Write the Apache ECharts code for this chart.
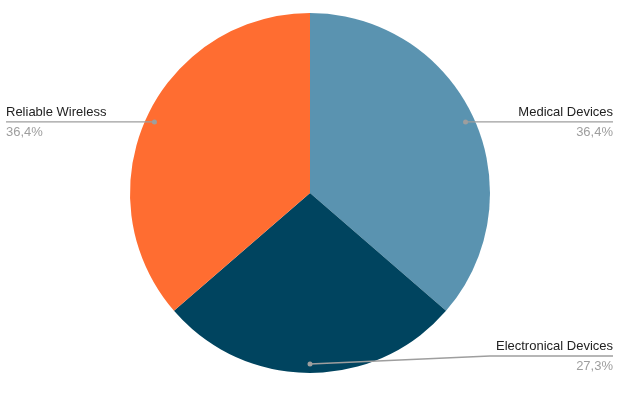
<!DOCTYPE html>
<html>
<head>
<meta charset="utf-8">
<script src="https://cdn.jsdelivr.net/npm/echarts@6/dist/echarts.min.js"></script>
<style>
html,body{margin:0;padding:0;background:#fff;}
#c{width:640px;height:404px;}
</style>
</head>
<body>
<div id="c"></div>
<script>
const categories = ['Medical Devices', 'Electronical Devices', 'Reliable Wireless'];
const values = [4, 3, 4];
const colors = ['#5a93b0', '#00445f', '#ff6d31'];

const CX = 310, CY = 193, R = 180;
const chart = echarts.init(document.getElementById('c'), null, {renderer: 'canvas'});
const total = values.reduce((a, b) => a + b, 0);
const pieData = categories.map((c, i) => ({name: c, value: values[i], itemStyle: {color: colors[i]}}));
const ghostData = pieData.map(d => ({name: d.name, value: d.value, itemStyle: {color: 'rgba(0,0,0,0)'}}));
const FONT = 'Arial, "Liberation Sans", sans-serif';

chart.setOption({
  animation: false,
  series: [
    {
      type: 'pie',
      center: [CX, CY],
      radius: [0, R],
      startAngle: 90,
      clockwise: true,
      data: pieData,
      label: {show: false},
      labelLine: {show: false}
    },
    {
      type: 'pie',
      center: [CX, CY],
      radius: [0, R],
      startAngle: 90,
      clockwise: true,
      silent: true,
      z: 5,
      data: ghostData,
      label: {
        show: true,
        position: 'outside',
        overflow: 'none',
        formatter: p => '{n|' + p.name + '}\n{p|' + (p.value / total * 100).toFixed(1).replace('.', ',') + '%}',
        rich: {
          n: {fontFamily: FONT, fontSize: 13, color: '#222222', lineHeight: 20},
          p: {fontFamily: FONT, fontSize: 13, color: '#9e9e9e', lineHeight: 20}
        }
      },
      labelLine: {show: true, lineStyle: {color: '#9e9e9e', width: 1.3}},
      labelLayout: function (params) {
        const p0 = params.labelLinePoints ? params.labelLinePoints[0] : [CX, CY];
        const dx = p0[0] - CX, dy = p0[1] - CY;
        const rr = Math.hypot(dx, dy) || 1;
        const s = 171 / rr;
        const sx = CX + dx * s, sy = CY + dy * s;
        const right = dx > 0;
        const ly = Math.min(sy, 356);
        const w = params.labelRect.width;
        const endX = right ? 613 : 6;
        let bendX;
        if (right) bendX = Math.max(sx, endX - w - 6);
        else bendX = Math.min(sx, endX + w + 6);
        return {
          x: endX,
          y: ly,
          align: right ? 'right' : 'left',
          verticalAlign: 'middle',
          labelLinePoints: [[sx, sy], [bendX, ly], [endX, ly]]
        };
      }
    },
    {
      type: 'pie',
      center: [CX, CY],
      radius: [R - 24, R],
      startAngle: 90,
      clockwise: true,
      silent: true,
      z: 6,
      data: ghostData,
      label: {
        show: true,
        position: 'inside',
        formatter: '{d|}',
        rich: {d: {width: 5, height: 5, borderRadius: 2.5, backgroundColor: '#9e9e9e'}}
      },
      labelLine: {show: false}
    }
  ]
});
</script>
</body>
</html>
